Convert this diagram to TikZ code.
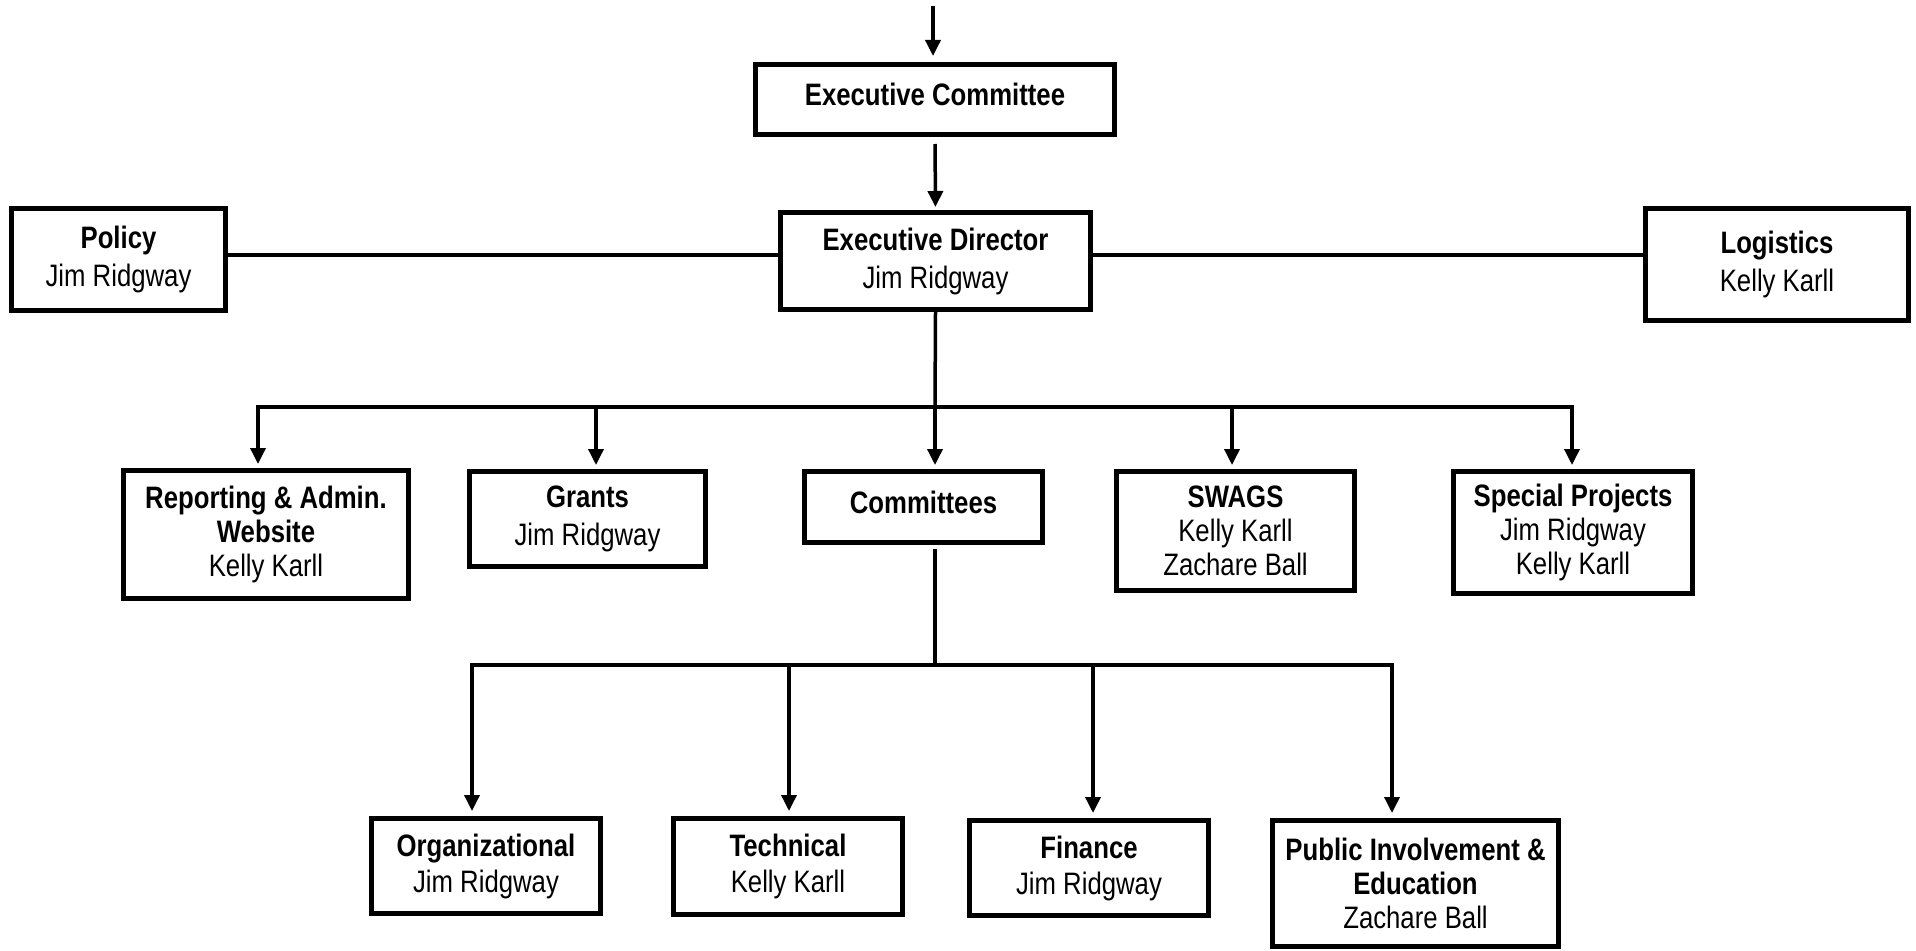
\documentclass[tikz,border=0pt]{standalone}
\usepackage{fontspec}
\setmainfont[FakeStretch=0.83]{Liberation Sans}
\usetikzlibrary{arrows.meta}
\begin{document}
\begin{tikzpicture}[x=1pt,y=-1pt,
  box/.style={draw, line width=5pt, inner sep=0pt, align=center, font=\fontsize{31}{34}\selectfont},
  conn/.style={line width=3.5pt},
  arr/.style={line width=3.5pt, -{Triangle[length=16pt,width=15pt]}}]
\useasboundingbox (0,0) rectangle (1916,950);
% boxes
\node[box, minimum width=359pt, minimum height=70pt, text depth=10pt] (EC) at (935,99.5) {\textbf{Executive Committee}};
\node[box, minimum width=310pt, minimum height=97pt] (ED) at (935.5,261) {\textbf{Executive Director}\\[4pt]Jim Ridgway};
\node[box, minimum width=214pt, minimum height=102pt] (Policy) at (118.5,259.5) {\textbf{Policy}\\[4pt]Jim Ridgway};
\node[box, minimum width=263pt, minimum height=112pt] (Logistics) at (1777,264.5) {\textbf{Logistics}\\[4pt]Kelly Karll};
\node[box, minimum width=285pt, minimum height=128pt] (Rep) at (266,534.5) {\textbf{Reporting \& Admin.}\\\textbf{Website}\\Kelly Karll};
\node[box, minimum width=236pt, minimum height=95pt] (Grants) at (587.5,519) {\textbf{Grants}\\[4pt]Jim Ridgway};
\node[box, minimum width=238pt, minimum height=71pt, text depth=10pt] (Comm) at (923.5,507) {\textbf{Committees}};
\node[box, minimum width=238pt, minimum height=119pt] (SWAGS) at (1235.5,531) {\textbf{SWAGS}\\Kelly Karll\\Zachare Ball};
\node[box, minimum width=239pt, minimum height=122pt] (Special) at (1573,532.5) {\textbf{Special Projects}\\Jim Ridgway\\Kelly Karll};
\node[box, minimum width=229pt, minimum height=95pt] (Org) at (486,866) {\textbf{Organizational}\\[2pt]Jim Ridgway};
\node[box, minimum width=229pt, minimum height=96pt] (Tech) at (788,866.5) {\textbf{Technical}\\[2pt]Kelly Karll};
\node[box, minimum width=239pt, minimum height=95pt] (Fin) at (1089,868) {\textbf{Finance}\\[2pt]Jim Ridgway};
\node[box, minimum width=286pt, minimum height=126pt] (Pub) at (1415.5,883.5) {\textbf{Public Involvement \&}\\\textbf{Education}\\Zachare Ball};
% top connectors
\coordinate (top) at (933,6);
\draw[arr, shorten >=6pt] (top) -- (top |- EC.north);
\draw[arr, shorten <=7pt, shorten >=3pt] (EC.south) -- (ED.north);
\coordinate (hl) at (0,255);
\draw[conn] (Policy.east |- hl) -- (ED.west |- hl);
\draw[conn] (ED.east |- hl) -- (Logistics.west |- hl);
% first bus
\coordinate (j1) at (935,407);
\draw[conn] (ED.south) -- (j1);
\coordinate (b1) at (258,407);
\coordinate (b2) at (596,407);
\coordinate (b3) at (935,407);
\coordinate (b4) at (1232,407);
\coordinate (b5) at (1572,407);
\draw[conn, line cap=rect] (b1) -- (b5);
\foreach \c/\n in {b1/Rep, b2/Grants, b3/Comm, b4/SWAGS, b5/Special}
  \draw[arr, shorten >=4pt] ([yshift=-1.75pt]\c) -- (\c |- \n.north);
% second bus
\coordinate (j2) at (935,665);
\draw[conn, shorten <=4pt] (j2 |- Comm.south) -- (j2);
\coordinate (c1) at (472,665);
\coordinate (c2) at (789,665);
\coordinate (c3) at (1093,665);
\coordinate (c4) at (1392,665);
\draw[conn, line cap=rect] (c1) -- (c4);
\foreach \c/\n in {c1/Org, c2/Tech, c3/Fin, c4/Pub}
  \draw[arr, shorten >=5pt] ([yshift=-1.75pt]\c) -- (\c |- \n.north);
\end{tikzpicture}
\end{document}
